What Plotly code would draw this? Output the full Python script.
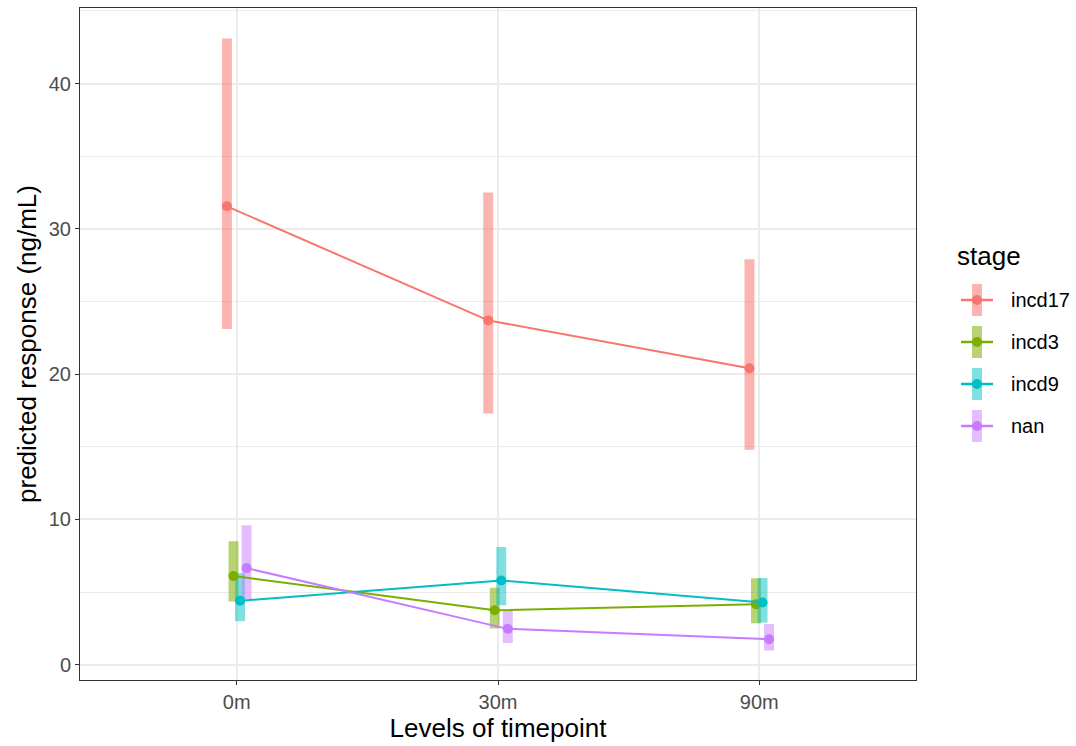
import plotly.graph_objects as go

timepoints = ["0m", "30m", "90m"]
stages = ["incd17", "incd3", "incd9", "nan"]
colors = ["#F8766D", "#7CAE00", "#00BFC4", "#C77CFF"]
fills = ["rgba(248,118,109,0.55)", "rgba(124,174,0,0.55)", "rgba(0,191,196,0.5)", "rgba(199,124,255,0.5)"]

pred = {
    "incd17": [31.55, 23.7, 20.4],
    "incd3": [6.1, 3.75, 4.17],
    "incd9": [4.4, 5.8, 4.28],
    "nan": [6.65, 2.47, 1.75],
}
lower = {
    "incd17": [23.1, 17.3, 14.8],
    "incd3": [4.35, 2.5, 2.85],
    "incd9": [3.0, 4.1, 2.9],
    "nan": [4.5, 1.5, 0.98],
}
upper = {
    "incd17": [43.1, 32.5, 27.9],
    "incd3": [8.5, 5.3, 5.95],
    "incd9": [6.3, 8.1, 5.97],
    "nan": [9.6, 3.8, 2.8],
}

dodge = 0.1
n = len(stages)
fig = go.Figure()

def xs(i):
    off = dodge * ((i + 0.5) / n - 0.5)
    return [k + 1 + off for k in range(len(timepoints))]

for i, s in enumerate(stages):
    fig.add_trace(go.Bar(
        x=xs(i), base=lower[s], y=[u - l for u, l in zip(upper[s], lower[s])],
        width=0.038, marker=dict(color=fills[i], line=dict(width=0)),
        showlegend=False, hoverinfo="skip"))

for i, s in enumerate(stages):
    fig.add_trace(go.Scatter(
        x=xs(i), y=pred[s], mode="lines+markers", name=s,
        line=dict(color=colors[i], width=2),
        marker=dict(color=colors[i], size=10),
        showlegend=False))

W, H = 1076, 746
ml, mr, mt, mb = 80, 160, 8, 66
pw, ph = W - ml - mr, H - mt - mb

def px(x):
    return (x - ml) / pw

def py(y):
    return 1 - (y - mt) / ph

# custom legend (ggplot-style keys)
fig.add_annotation(x=px(955), y=py(256), xref="paper", yref="paper", text="stage",
                   showarrow=False, font=dict(size=26, color="black"),
                   xanchor="left", yanchor="middle")
legend_y = [300, 342, 384, 426]
for i, s in enumerate(stages):
    yc = legend_y[i]
    cx = 977
    fig.add_shape(type="rect", xref="paper", yref="paper",
                  x0=px(cx - 5), x1=px(cx + 5), y0=py(yc - 16), y1=py(yc + 16),
                  fillcolor=fills[i], line=dict(width=0))
    fig.add_shape(type="line", xref="paper", yref="paper",
                  x0=px(cx - 16), x1=px(cx + 16), y0=py(yc), y1=py(yc),
                  line=dict(color=colors[i], width=2.5))
    fig.add_shape(type="circle", xref="paper", yref="paper",
                  x0=px(cx - 5), x1=px(cx + 5), y0=py(yc - 5), y1=py(yc + 5),
                  fillcolor=colors[i], line=dict(width=0))
    fig.add_annotation(x=px(1009), y=py(yc), xref="paper", yref="paper", text=s,
                       showarrow=False, font=dict(size=20, color="black"),
                       xanchor="left", yanchor="middle")

fig.update_layout(
    width=W, height=H,
    margin=dict(l=ml, r=mr, t=mt, b=mb),
    plot_bgcolor="white", paper_bgcolor="white",
    barmode="overlay",
    font=dict(family="Liberation Sans, Arial, sans-serif"),
    showlegend=False,
    xaxis=dict(
        range=[0.4, 3.6], tickmode="array", tickvals=[1, 2, 3], ticktext=timepoints,
        showgrid=True, gridcolor="#EBEBEB", gridwidth=1.5,
        showline=True, mirror=True, linecolor="#333333", linewidth=1,
        ticks="outside", ticklen=4, tickcolor="#333333",
        tickfont=dict(size=20, color="#4D4D4D"), zeroline=False,
        title=dict(text="Levels of timepoint", font=dict(size=26, color="black"), standoff=2),
    ),
    yaxis=dict(
        range=[-1.05, 45.2], tickvals=[0, 10, 20, 30, 40],
        showgrid=True, gridcolor="#EBEBEB", gridwidth=1.5,
        minor=dict(dtick=5, tick0=0, showgrid=True, gridcolor="#EBEBEB", gridwidth=0.8),
        showline=True, mirror=True, linecolor="#333333", linewidth=1,
        ticks="outside", ticklen=4, tickcolor="#333333",
        tickfont=dict(size=20, color="#4D4D4D"), zeroline=False,
        title=dict(text="predicted response (ng/mL)", font=dict(size=26, color="black"), standoff=4),
    ),
)

fig.write_html("out.html")
